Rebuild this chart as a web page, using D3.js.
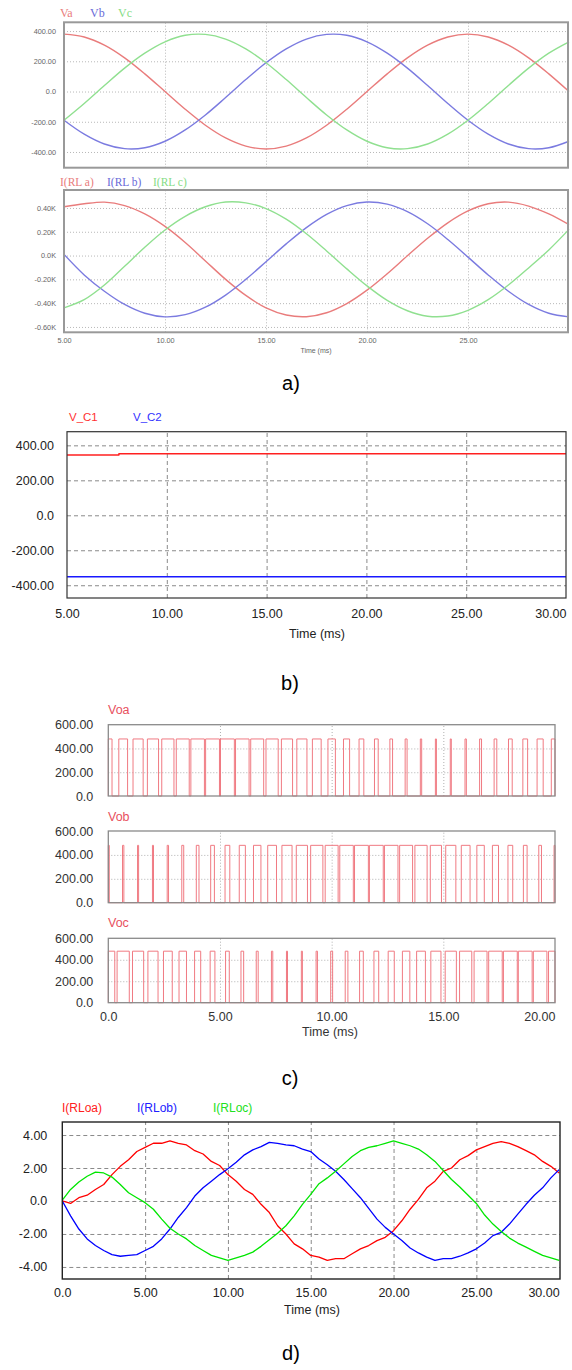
<!DOCTYPE html>
<html>
<head>
<meta charset="utf-8">
<script src="https://cdn.jsdelivr.net/npm/d3@7"></script>
<style>
  body { margin: 0; background: #fff; }
  svg { display: block; font-family: Arial, "Liberation Sans", sans-serif; }
</style>
</head>
<body>
<script>
//// DATA

// a) phase voltages (V) and load currents (kA), read every 1 ms
const A_TIME = [5,6,7,8,9,10,11,12,13,14,15,16,17,18,19,20,21,22,23,24,25,26,27,28,29,30];
const VA = [380,361,307,223,117,0,-117,-223,-307,-361,-380,-361,-307,-223,-117,0,117,223,307,361,380,361,307,223,117,0];
const VB = [-190,-282,-347,-378,-372,-329,-254,-155,-40,79,190,282,347,378,372,329,254,155,40,-79,-190,-282,-347,-378,-372,-329];
const VC = [-190,-79,40,155,254,329,372,378,347,282,190,79,-40,-155,-254,-329,-372,-378,-347,-282,-190,-79,40,155,254,329];
const IA = [0.41,0.435,0.449,0.42,0.35,0.245,0.11,-0.045,-0.2,-0.335,-0.44,-0.5,-0.514,-0.481,-0.404,-0.291,-0.153,-0.002,0.145,0.275,0.375,0.435,0.449,0.416,0.35,0.26];
const IB = [0.01,-0.163,-0.3,-0.411,-0.485,-0.515,-0.497,-0.434,-0.332,-0.2,-0.052,0.098,0.235,0.346,0.42,0.45,0.432,0.369,0.267,0.135,-0.013,-0.163,-0.3,-0.411,-0.485,-0.515];
const IC = [-0.44,-0.371,-0.248,-0.09,0.07,0.215,0.33,0.41,0.45,0.443,0.395,0.306,0.183,0.039,-0.112,-0.255,-0.377,-0.464,-0.51,-0.508,-0.46,-0.371,-0.248,-0.104,0.047,0.22];
const A_V_TICKS = [400,200,0,-200,-400];
const A_V_LABELS = ["400.00","200.00","0.0","-200.00","-400.00"];
const A_I_TICKS = [0.4,0.2,0,-0.2,-0.4,-0.6];
const A_I_LABELS = ["0.40K","0.20K","0.0K","-0.20K","-0.40K","-0.60K"];
const A_X_TICKS = [5,10,15,20,25];
const A_X_LABELS = ["5.00","10.00","15.00","20.00","25.00"];

// b) dc-link capacitor voltages (V)
const C1_TIME = [5,7.6,7.6,30];
const V_C1 = [345,345,352,352];
const C2_TIME = [5,30];
const V_C2 = [-351,-351];
const B_Y_TICKS = [400,200,0,-200,-400];
const B_Y_LABELS = ["400.00","200.00","0.0","-200.00","-400.00"];
const B_X_TICKS = [5,10,15,20,25,30];
const B_X_LABELS = ["5.00","10.00","15.00","20.00","25.00","30.00"];

// c) output pole voltages: duty of each carrier period (pulse centred on k*T)
const PWM_PERIOD_MS = 0.6667;
const PULSE_HIGH = 480;
const DUTY_OA = [.50,.59,.68,.75,.82,.87,.91,.93,.93,.91,.87,.82,.75,.68,.59,.50,.41,.32,.25,.18,.13,.09,.07,.07,.09,.13,.18,.25,.32,.41,.50];
const DUTY_OB = [.13,.09,.07,.07,.09,.13,.18,.25,.32,.41,.50,.59,.68,.75,.82,.87,.91,.93,.93,.91,.87,.82,.75,.68,.59,.50,.41,.32,.25,.18,.13];
const DUTY_OC = [.87,.82,.75,.68,.59,.50,.41,.32,.25,.18,.13,.09,.07,.07,.09,.13,.18,.25,.32,.41,.50,.59,.68,.75,.82,.87,.91,.93,.93,.91,.87];
const C_Y_TICKS = [600,400,200,0];
const C_Y_LABELS = ["600.00","400.00","200.00","0.0"];
const C_X_TICKS = [0,5,10,15,20];
const C_X_LABELS = ["0.0","5.00","10.00","15.00","20.00"];

// d) load currents (A), read every 0.5 ms
const D_TIME = [0,0.5,1,1.5,2,2.5,3,3.5,4,4.5,5,5.5,6,6.5,7,7.5,8,8.5,9,9.5,10,10.5,11,11.5,12,12.5,13,13.5,14,14.5,15,15.5,16,16.5,17,17.5,18,18.5,19,19.5,20,20.5,21,21.5,22,22.5,23,23.5,24,24.5,25,25.5,26,26.5,27,27.5,28,28.5,29,29.5,30];
const I_OA = [0.0,-0.15,0.2,0.35,0.7,1.0,1.6,2.1,2.5,3.0,
  3.25,3.5,3.5,3.65,3.5,3.4,3.05,2.85,2.4,2.15,
  1.6,1.2,0.7,0.4,-0.2,-0.7,-1.5,-2.0,-2.6,-2.9,
  -3.3,-3.4,-3.6,-3.5,-3.5,-3.2,-2.9,-2.7,-2.4,-2.2,
  -1.8,-1.2,-0.5,0.1,0.8,1.2,1.8,2.0,2.5,2.75,
  3.1,3.3,3.5,3.6,3.5,3.3,3.05,2.8,2.4,2.1,1.7];
const I_OB = [0.0,-0.9,-1.7,-2.3,-2.7,-3.0,-3.25,-3.35,-3.3,-3.25,
  -3.0,-2.75,-2.3,-1.7,-1.0,-0.4,0.3,0.8,1.2,1.6,
  1.95,2.35,2.8,3.1,3.3,3.55,3.5,3.4,3.35,3.15,
  3.0,2.55,2.2,1.8,1.3,0.75,0.2,-0.45,-1.1,-1.6,
  -2.0,-2.4,-2.85,-3.15,-3.4,-3.6,-3.5,-3.5,-3.35,-3.15,
  -2.9,-2.55,-2.1,-1.9,-1.4,-0.8,-0.2,0.35,0.8,1.4,1.9];
const I_OC = [0.05,0.7,1.15,1.5,1.75,1.7,1.45,1.0,0.5,0.2,
  -0.1,-0.5,-1.1,-1.65,-2.0,-2.3,-2.7,-3.0,-3.3,-3.45,
  -3.6,-3.45,-3.3,-3.1,-2.75,-2.35,-1.95,-1.5,-0.9,-0.2,
  0.4,1.05,1.4,1.8,2.25,2.7,3.05,3.25,3.35,3.5,
  3.65,3.5,3.35,3.15,2.8,2.4,1.85,1.3,0.85,0.35,
  -0.15,-0.85,-1.4,-1.85,-2.25,-2.55,-2.8,-3.05,-3.3,-3.45,-3.6];
const D_Y_TICKS = [4,2,0,-2,-4];
const D_Y_LABELS = ["4.00","2.00","0.0","-2.00","-4.00"];
const D_X_TICKS = [0,5,10,15,20,25,30];
const D_X_LABELS = ["0.0","5.00","10.00","15.00","20.00","25.00","30.00"];

//// DRAWING

const svg = d3.select("body").append("svg").attr("width", 572).attr("height", 1370);

const drawPanel = (o) => {
  const x = d3.scaleLinear().domain(o.xDomain).range(o.xRange);
  const y = d3.scaleLinear().domain(o.yDomain).range(o.yRange);
  const [left, right] = o.xRange, [bottom, top] = o.yRange;
  const g = svg.append("g");

  // grid, drawn as long axis ticks
  g.append("g").attr("transform", `translate(0,${bottom})`)
    .call(d3.axisBottom(x).tickValues(o.xGrid).tickSize(-(bottom - top)).tickFormat(""))
    .call(a => a.select(".domain").remove())
    .selectAll("line").attr("stroke", o.gridColor).attr("stroke-dasharray", o.dash);
  g.append("g").attr("transform", `translate(${left},0)`)
    .call(d3.axisLeft(y).tickValues(o.yGrid).tickSize(-(right - left)).tickFormat(""))
    .call(a => a.select(".domain").remove())
    .selectAll("line").attr("stroke", o.gridColor).attr("stroke-dasharray", o.dash);

  const lines = g.append("g");

  g.append("rect")
    .attr("x", left).attr("y", top).attr("width", right - left).attr("height", bottom - top)
    .attr("fill", "none").attr("stroke", o.boxColor).attr("stroke-width", o.boxWidth);

  const yAx = g.append("g").attr("transform", `translate(${left},0)`)
    .call(d3.axisLeft(y).tickValues(o.yTicks).tickSize(0).tickPadding(o.yPad)
      .tickFormat(d => o.yLabels[o.yTicks.indexOf(d)]));
  yAx.select(".domain").remove();
  yAx.attr("font-size", o.font).attr("font-family", o.family);
  yAx.selectAll("text").attr("fill", o.textColor);

  if (o.xTicks) {
    const xAx = g.append("g").attr("transform", `translate(0,${bottom})`)
      .call(d3.axisBottom(x).tickValues(o.xTicks).tickSize(0).tickPadding(o.xPad)
        .tickFormat(d => o.xLabels[o.xTicks.indexOf(d)]));
    xAx.select(".domain").remove();
    xAx.attr("font-size", o.font).attr("font-family", o.family);
    xAx.selectAll("text").attr("fill", o.textColor);
    if (o.lastLabelEnd) xAx.selectAll("text").filter((d, i, n) => i == n.length - 1).attr("text-anchor", "end");
  }
  return { lines, x, y };
};

const addLine = (p, time, values, color, width, curve) => {
  p.lines.append("path")
    .datum(d3.zip(time, values))
    .attr("fill", "none")
    .attr("stroke", color)
    .attr("stroke-width", width)
    .attr("stroke-linejoin", "round")
    .attr("d", d3.line().x(d => p.x(d[0])).y(d => p.y(d[1])).curve(curve || d3.curveLinear));
};

const addText = (x, y, str, size, color, anchor, family) => {
  svg.append("text").attr("x", x).attr("y", y).attr("font-size", size)
    .attr("fill", color).attr("text-anchor", anchor || "start")
    .attr("font-family", family || null).text(str);
};

const pwmPoints = (duty, tEnd) => {
  const pts = [];
  duty.forEach((d, k) => {
    const c = k * PWM_PERIOD_MS, h = d * PWM_PERIOD_MS / 2;
    const a = Math.max(0, c - h), b = Math.min(tEnd, c + h);
    if (b > a) pts.push([a, 0], [a, PULSE_HIGH], [b, PULSE_HIGH], [b, 0]);
  });
  return pts;
};

//////// a)
const A_STYLE = {
  gridColor: "#b8b8b8", dash: "1,2", boxColor: "#999", boxWidth: 2,
  font: 7.3, family: "Arial, sans-serif", textColor: "#666", yPad: 8, xPad: 6
};
const aTop = drawPanel(Object.assign({}, A_STYLE, {
  xDomain: [5, 29.95], xRange: [64, 568], yDomain: [-504, 458], yRange: [167.7, 22.3],
  xGrid: [10, 15, 20, 25], yGrid: A_V_TICKS, yTicks: A_V_TICKS, yLabels: A_V_LABELS
}));
addLine(aTop, A_TIME, VA, "#e97c7c", 1.4, d3.curveCatmullRom);
addLine(aTop, A_TIME, VB, "#7b7be0", 1.4, d3.curveCatmullRom);
addLine(aTop, A_TIME, VC, "#90e090", 1.4, d3.curveCatmullRom);
addText(60, 17, "Va", 12, "#e97c7c", "start", "'Liberation Serif', serif");
addText(90, 17, "Vb", 12, "#6a6ad8", "start", "'Liberation Serif', serif");
addText(118, 17, "Vc", 12, "#86dc86", "start", "'Liberation Serif', serif");

const aBot = drawPanel(Object.assign({}, A_STYLE, {
  xDomain: [5, 29.95], xRange: [64, 568], yDomain: [-0.645, 0.551], yRange: [332.3, 190],
  xGrid: [10, 15, 20, 25], yGrid: A_I_TICKS, yTicks: A_I_TICKS, yLabels: A_I_LABELS,
  xTicks: A_X_TICKS, xLabels: A_X_LABELS
}));
addLine(aBot, A_TIME, IA, "#e97c7c", 1.4, d3.curveCatmullRom);
addLine(aBot, A_TIME, IB, "#7b7be0", 1.4, d3.curveCatmullRom);
addLine(aBot, A_TIME, IC, "#90e090", 1.4, d3.curveCatmullRom);
addText(60, 186, "I(RL a)", 11.5, "#e97c7c", "start", "'Liberation Serif', serif");
addText(107, 186, "I(RL b)", 11.5, "#6a6ad8", "start", "'Liberation Serif', serif");
addText(153, 186, "I(RL c)", 11.5, "#86dc86", "start", "'Liberation Serif', serif");
addText(316, 353, "Time (ms)", 7, "#666", "middle");
addText(291, 390, "a)", 20, "#000", "middle");

//////// b)
const pb = drawPanel({
  xDomain: [5, 30], xRange: [67, 566], yDomain: [-473, 478], yRange: [598, 431.7],
  xGrid: [10, 15, 20, 25], yGrid: B_Y_TICKS, yTicks: B_Y_TICKS, yLabels: B_Y_LABELS,
  xTicks: B_X_TICKS, xLabels: B_X_LABELS, lastLabelEnd: true,
  gridColor: "#8a8a8a", dash: "4,3", boxColor: "#333", boxWidth: 1.2,
  font: 12.5, family: "Arial, sans-serif", textColor: "#222", yPad: 13, xPad: 11
});
addLine(pb, C1_TIME, V_C1, "#ff2020", 1.5);
addLine(pb, C2_TIME, V_C2, "#1818ff", 1.5);
addText(69, 421, "V_C1", 11.5, "#ff3030");
addText(133, 421, "V_C2", 11.5, "#3030ff");
addText(317, 638, "Time (ms)", 12.5, "#222", "middle");
addText(290, 690, "b)", 20, "#000", "middle");

//////// c)
const C_STYLE = {
  xDomain: [0, 20], xRange: [108.3, 555], yDomain: [0, 600],
  xGrid: [5, 10, 15], yGrid: [200, 400], yTicks: C_Y_TICKS, yLabels: C_Y_LABELS,
  gridColor: "#b0b0b0", dash: "1,2", boxColor: "#8a8a8a", boxWidth: 1.3,
  font: 12.5, family: "Arial, sans-serif", textColor: "#333", yPad: 15, xPad: 9
};
const cRows = [
  { name: "Voa", duty: DUTY_OA, yRange: [796, 724.7], labelY: 714 },
  { name: "Vob", duty: DUTY_OB, yRange: [902.7, 831], labelY: 821 },
  { name: "Voc", duty: DUTY_OC, yRange: [1002.7, 938.3], labelY: 927 }
];
cRows.forEach((r, i) => {
  const last = i == cRows.length - 1;
  const p = drawPanel(Object.assign({}, C_STYLE, { yRange: r.yRange },
    last ? { xTicks: C_X_TICKS, xLabels: C_X_LABELS, lastLabelEnd: true } : {}));
  const pts = pwmPoints(r.duty, 20);
  addLine(p, pts.map(d => d[0]), pts.map(d => d[1]), "#f07a82", 1);
  addText(108, r.labelY, r.name, 12.5, "#e8505e");
});
addText(330, 1036, "Time (ms)", 12.5, "#333", "middle");
addText(290, 1085, "c)", 20, "#000", "middle");

//////// d)
const pd = drawPanel({
  xDomain: [0, 30.05], xRange: [62.3, 560], yDomain: [-4.73, 4.79], yRange: [1279, 1122],
  xGrid: [5, 10, 15, 20, 25], yGrid: D_Y_TICKS, yTicks: D_Y_TICKS, yLabels: D_Y_LABELS,
  xTicks: D_X_TICKS, xLabels: D_X_LABELS, lastLabelEnd: true,
  gridColor: "#8a8a8a", dash: "4,3", boxColor: "#222", boxWidth: 1.4,
  font: 12.5, family: "Arial, sans-serif", textColor: "#222", yPad: 15, xPad: 9.5
});
addLine(pd, D_TIME, I_OA, "#ff0000", 1.3);
addLine(pd, D_TIME, I_OB, "#0000ff", 1.3);
addLine(pd, D_TIME, I_OC, "#00e600", 1.3);
addText(62, 1112, "I(RLoa)", 12, "#ff2020");
addText(137, 1112, "I(RLob)", 12, "#2020ff");
addText(213, 1112, "I(RLoc)", 12, "#20e020");
addText(312, 1314, "Time (ms)", 12.5, "#222", "middle");
addText(291, 1360, "d)", 20, "#000", "middle");
</script>
</body>
</html>
